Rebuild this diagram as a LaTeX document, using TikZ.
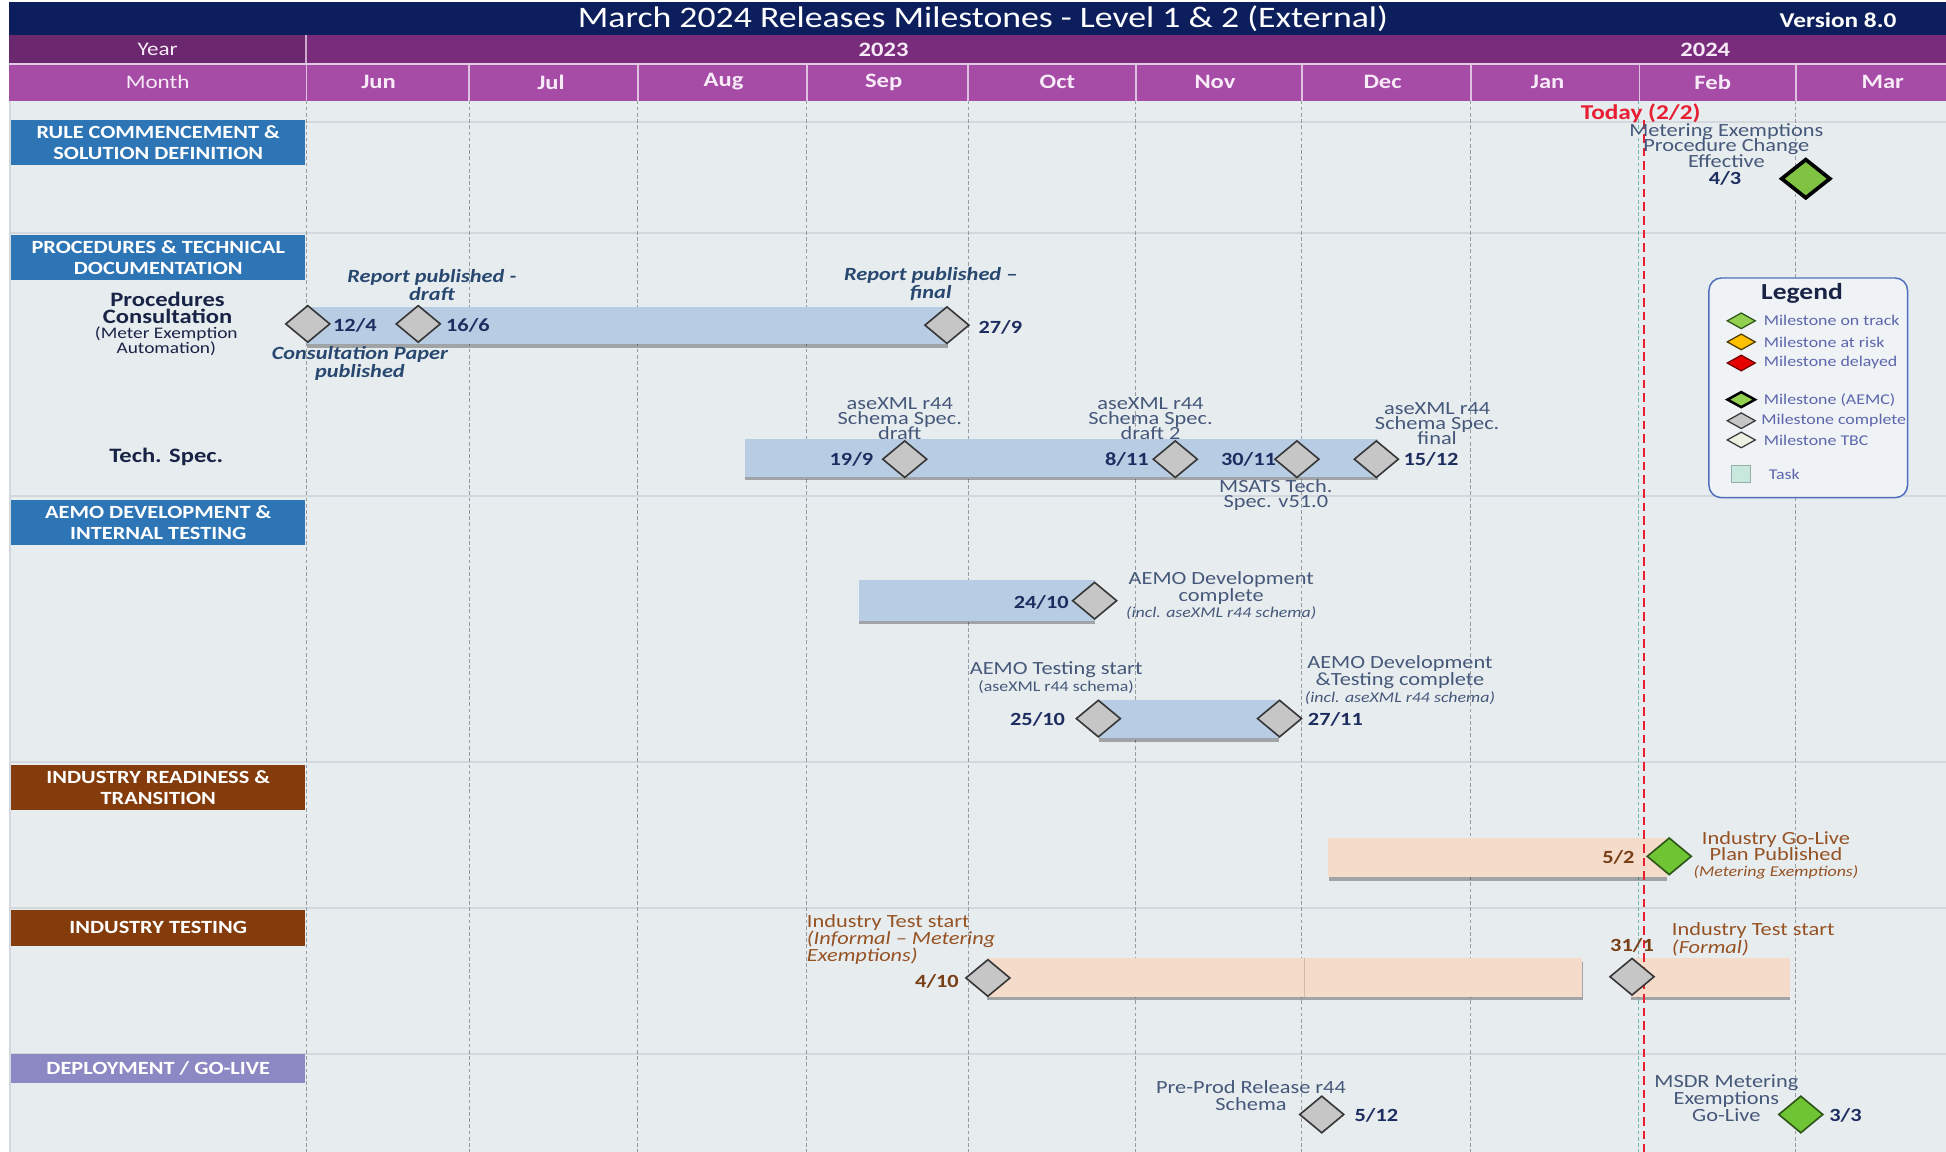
\documentclass[tikz,border=0pt]{standalone}
\usepackage{fontspec}
\setmainfont{Carlito}[FakeStretch=1.2]
\usetikzlibrary{shapes.geometric,shadows}
\newcommand\myfs[2]{\fontsize{#1}{#2}\selectfont\lineskiplimit=-30pt\lineskip=0pt}
\definecolor{navybar}{RGB}{12,30,92}
\definecolor{yearrow}{RGB}{122,44,124}
\definecolor{yearleft}{RGB}{108,40,110}
\definecolor{monthrow}{RGB}{166,76,166}
\definecolor{hdrtxt}{RGB}{248,235,248}
\definecolor{bodybg}{RGB}{231,236,239}
\definecolor{sepline}{RGB}{210,216,221}
\definecolor{gridc}{RGB}{150,156,162}
\definecolor{secblue}{RGB}{46,117,182}
\definecolor{secbrown}{RGB}{132,60,12}
\definecolor{seclav}{RGB}{140,136,196}
\definecolor{barblue}{RGB}{184,204,228}
\definecolor{barpeach}{RGB}{245,219,202}
\definecolor{diagrey}{RGB}{198,198,198}
\definecolor{diaedge}{RGB}{55,55,55}
\definecolor{diagreen}{RGB}{110,196,50}
\definecolor{diagreenedge}{RGB}{45,85,25}
\definecolor{aemcgreen}{RGB}{128,194,66}
\definecolor{rowlabc}{RGB}{25,35,70}
\definecolor{msc}{RGB}{70,88,122}
\definecolor{datec}{RGB}{30,45,95}
\definecolor{repc}{RGB}{40,72,112}
\definecolor{brownc}{RGB}{150,82,35}
\definecolor{browndate}{RGB}{120,62,22}
\definecolor{todayc}{RGB}{232,30,50}
\definecolor{tealc}{RGB}{110,185,175}
\definecolor{legedge}{RGB}{80,110,190}
\definecolor{legfill}{RGB}{240,243,246}
\definecolor{legtxt}{RGB}{92,102,172}
\definecolor{ltrack}{RGB}{146,208,80}
\definecolor{lrisk}{RGB}{255,192,0}
\definecolor{ldelay}{RGB}{230,0,0}
\definecolor{ltbc}{RGB}{236,242,226}
\definecolor{ltask}{RGB}{200,232,222}
\tikzset{
  hdr/.style={inner sep=0pt, text=hdrtxt},
  sechdr/.style={inner sep=0pt, align=center, text=white, font=\bfseries\myfs{15}{17}, minimum width=237pt},
  rowlab/.style={inner sep=0pt, align=center, text=rowlabc, font=\bfseries\myfs{16.5}{13.5}},
  rowsub/.style={inner sep=0pt, align=center, text=rowlabc, font=\myfs{13}{11.5}},
  msg/.style={inner sep=0pt, align=center, text=msc, font=\myfs{15}{12}},
  dateb/.style={inner sep=0pt, text=datec, font=\bfseries\myfs{15}{15}},
  bdate/.style={inner sep=0pt, text=browndate, font=\bfseries\myfs{15}{15}},
  replab/.style={inner sep=0pt, align=center, text=repc, font=\bfseries\itshape\myfs{15}{14.5}},
  brn/.style={inner sep=0pt, text=brownc, font=\myfs{15}{14}},
  barshadow/.style={drop shadow={shadow xshift=0.5pt, shadow yshift=-3pt, opacity=0.3, fill=black}},
  bluebar/.style={barshadow, fill=barblue},
  peachbar/.style={barshadow, fill=barpeach},
  mgrey/.style={diamond, draw=diaedge, fill=diagrey, line width=1.3pt, minimum width=36pt, minimum height=30pt, inner sep=0pt},
  mgreen/.style={mgrey, fill=diagreen, draw=diagreenedge},
  maemc/.style={diamond, draw=black, fill=aemcgreen, line width=3pt, minimum width=40pt, minimum height=32pt, inner sep=0pt},
  legdia/.style={diamond, line width=1pt, minimum width=23pt, minimum height=13pt, inner sep=0pt},
  legtx/.style={inner sep=0pt, anchor=west, text=legtxt, font=\myfs{12}{12}},
  gridv/.style={gridc, dash pattern=on 3pt off 2pt, line width=0.7pt},
  hsepline/.style={sepline, line width=1.6pt},
}
\begin{document}
\begin{tikzpicture}[x=1pt,y=-1pt]
\useasboundingbox (0,0) rectangle (1568,928);
\fill[white] (0,0) rectangle (1568,928);
% header
\fill[navybar] (7,2) rectangle (1568,28);
\node[inner sep=0pt, text=white, font=\myfs{24}{24}] (title) at (792,15) {March 2024 Releases Milestones - Level 1 \& 2 (External)};
\node[inner sep=0pt, text=white, font=\bfseries\myfs{17}{17}] (version) at (1481,16) {Version 8.0};
\fill[yearleft] (7,28) rectangle (246,51);
\fill[yearrow] (247,28) rectangle (1568,51);
\fill[monthrow] (7,52) rectangle (1568,81);
\draw[white!70!monthrow, line width=1.2pt] (7,51.5) -- (1568,51.5);
\foreach \x in {247,378,514,650,780,915,1049,1185,1321,1447}
  \draw[white!65!monthrow, line width=1.5pt] (\x,52) -- (\x,81);
\draw[white!60!yearrow, line width=1.2pt] (246.5,28) -- (246.5,51);
\node[hdr, font=\myfs{15.5}{15}] (year) at (127,40) {Year};
\node[hdr, font=\bfseries\myfs{16.5}{16}] (y2023) at (712,40) {2023};
\node[hdr, font=\bfseries\myfs{16.5}{16}] (y2024) at (1374,40) {2024};
\node[hdr, font=\myfs{15.5}{15}] (month) at (127,66) {Month};
\foreach \m/\x in {Jun/305,Jul/444,Aug/583,Sep/712,Oct/852,Nov/979,Dec/1114,Jan/1247,Feb/1380,Mar/1517}
  \node[hdr, font=\bfseries\myfs{16.5}{16}] (mo\m) at (\x,66) {\m};
% body
\fill[bodybg] (7,81) rectangle (1568,928);
\draw[sepline, line width=1.2pt] (8,81) -- (8,928);
\foreach \y in {98,188,400,614,732,849}
  \draw[hsepline] (7,\y) -- (1568,\y);
\foreach \x in {247,378,514,650,780,915,1049,1185,1447}
  \draw[gridv] (\x,81) -- (\x,928);
\draw[tealc, dash pattern=on 3pt off 2pt, line width=0.8pt] (1320,81) -- (1320,928);
% section headers
\node[sechdr, fill=secblue, minimum height=36pt] (s1) at (127.5,115) {RULE COMMENCEMENT \&\\SOLUTION DEFINITION};
\node[sechdr, fill=secblue, minimum height=37pt] (s2) at (127.5,207.5) {PROCEDURES \& TECHNICAL\\DOCUMENTATION};
\node[sechdr, fill=secblue, minimum height=36pt] (s3) at (127.5,421) {AEMO DEVELOPMENT \&\\INTERNAL TESTING};
\node[sechdr, fill=secbrown, minimum height=37pt] (s4) at (127.5,634.5) {INDUSTRY READINESS \&\\TRANSITION};
\node[sechdr, fill=secbrown, minimum height=29pt] (s5) at (127.5,747.5) {INDUSTRY TESTING};
\node[sechdr, fill=seclav, minimum height=24pt] (s6) at (127.5,861) {DEPLOYMENT / GO-LIVE};
% row labels
\node[rowlab] (pc) at (135,248) {Procedures\\Consultation};
\node[rowsub] (pcs) at (134,275) {(Meter Exemption\\Automation)};
\node[rowlab] (ts) at (134,368) {Tech. Spec.};
% bars
\path[bluebar] (247,247) rectangle (763,277);
\path[bluebar] (600,354) rectangle (1110,384);
\path[bluebar] (692,467) rectangle (882,500);
\path[bluebar] (885,564) rectangle (1030,595);
\path[peachbar] (1070,675) rectangle (1343,707);
\path[peachbar] (795,772) rectangle (1275,803);
\draw[barpeach!85!black, line width=0.4pt] (1051,772) -- (1051,803);
\path[peachbar] (1314,772) rectangle (1442,803);
% today line
\draw[todayc, dash pattern=on 7pt off 4pt, line width=1.6pt] (1325,97) -- (1325,928);
\node[inner sep=0pt, text=todayc, font=\bfseries\myfs{17}{17}] (today) at (1322,91) {Today (2/2)};
% milestones
\node[maemc] (m43) at (1455,144) {};
\node[mgrey] (m124) at (248,261) {};
\node[mgrey] (m166) at (337,261) {};
\node[mgrey] (m279) at (763,262) {};
\node[mgrey] (m199) at (729,370) {};
\node[mgrey] (m811) at (947,370) {};
\node[mgrey] (m3011) at (1045,370) {};
\node[mgrey] (m1512) at (1109,370) {};
\node[mgrey] (m2410) at (882,484) {};
\node[mgrey] (m2510) at (885,579) {};
\node[mgrey] (m2711) at (1031,579) {};
\node[mgreen] (m52) at (1345,690) {};
\node[mgrey] (m410) at (796,788) {};
\node[mgrey] (m311) at (1315,787) {};
\node[mgrey] (m512) at (1065,898) {};
\node[mgreen] (m33) at (1451,898) {};
% dates
\node[dateb] (d43) at (1390,144) {4/3};
\node[dateb] (d124) at (286,262) {12/4};
\node[dateb] (d166) at (377,262) {16/6};
\node[dateb] (d279) at (806,264) {27/9};
\node[dateb] (d199) at (686,370) {19/9};
\node[dateb] (d811) at (908,370) {8/11};
\node[dateb] (d3011) at (1006,370) {30/11};
\node[dateb] (d1512) at (1153,370) {15/12};
\node[dateb] (d2410) at (839,485) {24/10};
\node[dateb] (d2510) at (836,580) {25/10};
\node[dateb] (d2711) at (1076,580) {27/11};
\node[bdate] (d52) at (1304,691) {5/2};
\node[bdate] (d410) at (755,791) {4/10};
\node[bdate] (d311) at (1315,762) {31/1};
\node[dateb] (d512) at (1109,899) {5/12};
\node[dateb] (d33) at (1487,899) {3/3};
% milestone texts
\node[msg, font=\myfs{15}{12.5}] (mep) at (1391,117) {Metering Exemptions\\Procedure Change\\Effective};
\node[replab] (rp1) at (348,230) {Report published -\\draft};
\node[replab] (cp) at (290,293) {Consultation Paper\\published};
\node[replab] (rp2) at (750,229) {Report published –\\final};
\node[msg] (ax1) at (725,337) {aseXML r44\\Schema Spec.\\draft};
\node[msg] (ax2) at (927,337) {aseXML r44\\Schema Spec.\\draft 2};
\node[msg] (ax3) at (1158,341) {aseXML r44\\Schema Spec.\\final};
\node[msg] (msats) at (1028,399) {MSATS Tech.\\Spec. v51.0};
\node[msg, font=\myfs{15}{13.5}] (adc) at (984,480) {AEMO Development\\complete\\{\itshape\myfs{12}{12}(incl. aseXML r44 schema)}};
\node[msg, font=\myfs{15}{13}] (ats) at (851,546) {AEMO Testing start\\{\myfs{12}{12}(aseXML r44 schema)}};
\node[msg, font=\myfs{15}{14}] (adtc) at (1128,548) {AEMO Development\\\&Testing complete\\{\itshape\myfs{12}{12}(incl. aseXML r44 schema)}};
\node[brn, align=center, font=\myfs{15}{13}] (igl) at (1431,689) {Industry Go-Live\\Plan Published\\{\itshape\myfs{12}{12}(Metering Exemptions)}};
\node[brn, align=left, anchor=west] (its1) at (650,757) {Industry Test start\\\textit{(Informal – Metering}\\\textit{Exemptions)}};
\node[brn, align=left, anchor=west] (its2) at (1347,757) {Industry Test start\\\textit{(Formal)}};
\node[msg, font=\myfs{15}{14}] (pp) at (1008,883) {Pre-Prod Release r44\\Schema};
\node[msg, font=\myfs{15}{13.5}] (msdr) at (1391,885) {MSDR Metering\\Exemptions\\Go-Live};
% legend
\draw[legedge, fill=legfill, line width=1.2pt, rounded corners=10pt] (1377,224) rectangle (1537,401);
\node[inner sep=0pt, text=rowlabc, font=\bfseries\myfs{18.5}{18}] (legt) at (1452,236) {Legend};
\node[legdia, fill=ltrack, draw=diagreenedge] (l1) at (1403,258.5) {};
\node[legdia, fill=lrisk, draw=black!70!lrisk] (l2) at (1403,275.5) {};
\node[legdia, fill=ldelay, draw=black!50!ldelay] (l3) at (1403,292.5) {};
\node[legdia, fill=ltrack, draw=black, line width=2pt] (l4) at (1403,322) {};
\node[legdia, fill=diagrey, draw=diaedge] (l5) at (1403,339) {};
\node[legdia, fill=ltbc, draw=diaedge] (l6) at (1403,354.5) {};
\node[inner sep=0pt, fill=ltask, draw=ltask!75!black, line width=0.8pt, minimum width=15pt, minimum height=14pt] (l7) at (1403,382) {};
\node[legtx] (lt1) at (1421,258.5) {Milestone on track};
\node[legtx] (lt2) at (1421,275.5) {Milestone at risk};
\node[legtx] (lt3) at (1421,292.5) {Milestone delayed};
\node[legtx] (lt4) at (1421,322) {Milestone (AEMC)};
\node[legtx] (lt5) at (1419,339) {Milestone complete};
\node[legtx] (lt6) at (1421,354.5) {Milestone TBC};
\node[legtx] (lt7) at (1425,382) {Task};
\end{tikzpicture}
\end{document}
